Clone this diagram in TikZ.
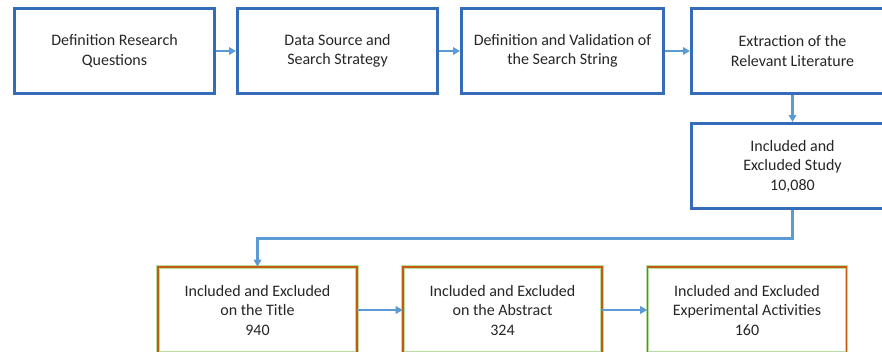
\documentclass[tikz,border=0pt]{standalone}
\usepackage{fontspec}
\setmainfont{Carlito}
\usetikzlibrary{arrows.meta}
\definecolor{boxblue}{RGB}{52,108,186}
\definecolor{flowblue}{RGB}{91,155,213}
\definecolor{rimorange}{RGB}{197,90,17}
\definecolor{rimgreen}{RGB}{185,220,160}
\definecolor{ink}{RGB}{38,38,38}
\tikzset{
  stage/.style={draw=boxblue, line width=3pt, fill=white, minimum width=200pt,
    minimum height=85pt, align=center, text=ink, inner sep=0pt,
    font=\fontsize{16pt}{19.5pt}\selectfont},
  screen/.style={draw=rimgreen, double=rimorange, line width=0.6pt, double distance=1.9pt,
    fill=white, minimum width=199pt, minimum height=86pt, align=center, text=ink,
    inner sep=0pt, font=\fontsize{16pt}{19.5pt}\selectfont},
  flow/.style={draw=flowblue, line width=2.5pt,
    -{Triangle[length=7pt,width=7.5pt]}},
}
\begin{document}
\begin{tikzpicture}[x=1pt, y=-1pt]
  \clip (0,0) rectangle (882,351);
  \fill[white] (0,0) rectangle (882,351);

  % top row
  \node[stage] (rq)  at (114.5,51) {Definition Research\\Questions};
  \node[stage] (ds)  at (337.5,51) {Data Source and\\Search Strategy};
  \node[stage, minimum width=202pt] (val) at (562.5,51) {Definition and Validation of\\the Search String};
  \node[stage, minimum width=202pt] (ext) at (792.5,51) {Extraction of the\\Relevant Literature};

  % second row
  \node[stage, minimum width=202pt] (ies) at (792.5,166) {Included and\\Excluded Study\\10,080};

  % screening row
  \node[screen] (tit) at (257.5,310) {Included and Excluded\\on the Title\\940};
  \node[screen] (abs) at (502.5,310) {Included and Excluded\\on the Abstract\\324};
  \node[screen] (exp) at (747,310) {Included and Excluded\\Experimental Activities\\160};

  % connectors
  \draw[flow] (rq.east) -- (ds.west);
  \draw[flow] (ds.east) -- (val.west);
  \draw[flow] (val.east) -- (ext.west);
  \draw[flow] (ext.south) -- (ies.north);
  \draw[flow] (ies.south) -- ++(0,28.5) -| (tit.north);
  \draw[flow] (tit.east) -- (abs.west);
  \draw[flow] (abs.east) -- (exp.west);
\end{tikzpicture}
\end{document}
